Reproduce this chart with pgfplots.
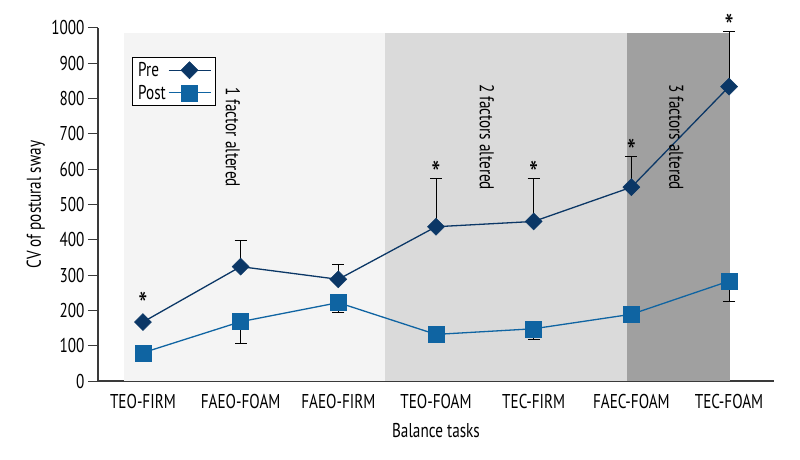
\documentclass[border=0pt]{standalone}
\usepackage{fontspec}
\setmainfont{PT Sans}[FakeStretch=0.76]
\usepackage{pgfplots}
\pgfplotsset{compat=1.18}

\definecolor{preblue}{HTML}{0B3766}
\definecolor{postblue}{HTML}{0F64A2}
\definecolor{zoneA}{HTML}{F4F4F4}
\definecolor{zoneB}{HTML}{DADADA}
\definecolor{zoneC}{HTML}{A0A0A0}
\definecolor{axisgray}{HTML}{3A3A3A}

\newcommand{\chartfont}{\fontsize{20}{22}\selectfont}

\begin{document}
\begin{tikzpicture}
\path[use as bounding box] (-98pt,-79pt) rectangle (702pt,381pt);
\begin{axis}[
 scale only axis,
 width=676pt, height=353pt,
 xmin=-0.46, xmax=6.46,
 ymin=0, ymax=1000,
 axis lines*=left,
 axis line style={axisgray, line width=1.2pt},
 clip=false,
 xtick={0,...,6},
 xticklabels={TEO-FIRM,FAEO-FOAM,FAEO-FIRM,TEO-FOAM,TEC-FIRM,FAEC-FOAM,TEC-FOAM},
 x tick style={draw=none},
 ytick={0,100,...,1000},
 y tick style={axisgray, line width=1pt},
 tick align=outside,
 major tick length=10pt,
 /pgf/number format/assume math mode=true,
 /pgf/number format/1000 sep={},
 tick label style={font=\chartfont, black},
 label style={font=\chartfont},
 xlabel={Balance tasks},
 ylabel={CV of postural sway},
 xlabel style={at={(axis description cs:0.5,-0.139)}, anchor=center},
 ylabel style={at={(axis description cs:-0.092,0.5)}, anchor=center},
 legend style={
   font=\chartfont,
   at={(0.05,0.918)}, anchor=north west,
   draw=black, fill=white, line width=0.8pt,
   inner xsep=4pt, inner ysep=3pt, row sep=3pt,
   legend cell align=left,
   /tikz/every even column/.append style={column sep=0pt},
 },
 legend plot pos=right,
 legend image code/.code={
   \draw[mark repeat=2, mark phase=2] plot coordinates {(0pt,0pt) (21pt,0pt) (42pt,0pt)};
 },
]

% shaded zones
\addplot[fill=zoneA, draw=none, forget plot] coordinates {(-0.19,0)(-0.19,986)(2.48,986)(2.48,0)} -- cycle;
\addplot[fill=zoneB, draw=none, forget plot] coordinates {(2.48,0)(2.48,986)(4.96,986)(4.96,0)} -- cycle;
\addplot[fill=zoneC, draw=none, forget plot] coordinates {(4.96,0)(4.96,986)(6.01,986)(6.01,0)} -- cycle;

% Pre
\addplot[preblue, line width=1.3pt, mark=square*,
  mark options={rotate=45, mark size=6pt, line width=0.5pt},
  error bars/.cd, y dir=plus, y explicit,
  error bar style={black, line width=1pt},
  error mark options={black, line width=1pt, mark size=6pt, rotate=90}]
  table[x=x, y=y, y error=e] {
x y e
0 167 0
1 324 73
2 288 41
3 437 137
4 452 122
5 549 88
6 834 157
};

% Post
\addplot[postblue, line width=1.3pt, mark=square*,
  mark options={mark size=8pt, line width=0.5pt},
  error bars/.cd, y dir=minus, y explicit,
  error bar style={black, line width=1pt},
  error mark options={black, line width=1pt, mark size=6pt, rotate=90}]
  table[x=x, y=y, y error=e] {
x y e
0 80 0
1 168 61
2 222 29
3 132 0
4 148 30
5 189 0
6 283 58
};

\legend{Pre, Post}

% annotations
\node[rotate=-90, font=\chartfont] at (axis cs:0.92,691) {1 factor altered};
\node[rotate=-90, font=\chartfont] at (axis cs:3.52,691) {2 factors altered};
\node[rotate=-90, font=\chartfont] at (axis cs:5.46,691) {3 factors altered};

\node[font=\fontsize{34}{34}\selectfont] at (axis cs:0,218) {*};
\node[font=\fontsize{34}{34}\selectfont] at (axis cs:3,589) {*};
\node[font=\fontsize{34}{34}\selectfont] at (axis cs:4,589) {*};
\node[font=\fontsize{34}{34}\selectfont] at (axis cs:5,651) {*};
\node[font=\fontsize{34}{34}\selectfont] at (axis cs:6,1005) {*};
\end{axis}
\end{tikzpicture}
\end{document}
